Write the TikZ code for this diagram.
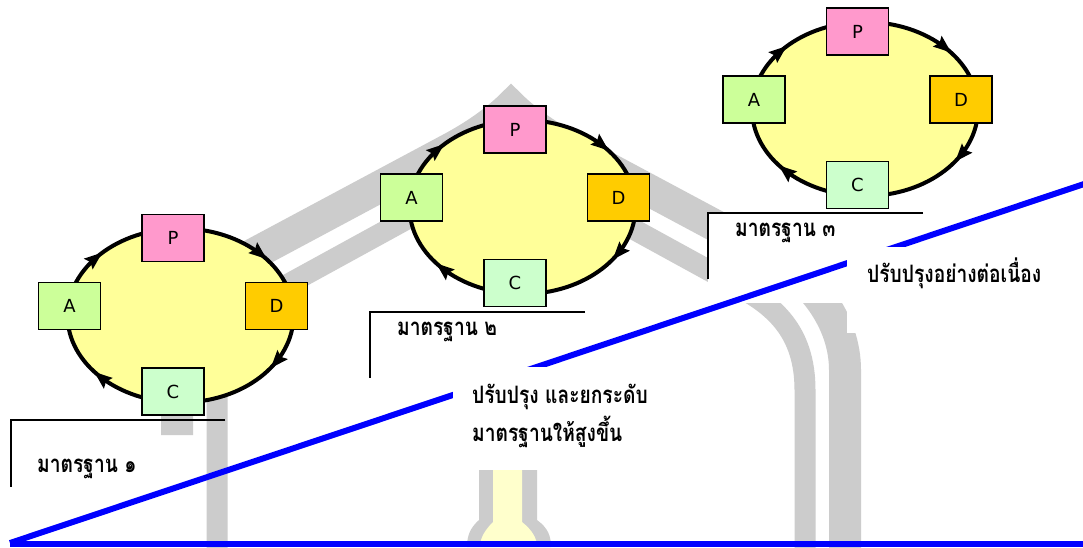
\documentclass[tikz,border=0pt]{standalone}
\usepackage{fontspec}
\setmainfont{DejaVu Sans}
\newfontfamily\thaifont[Script=Thai,FakeStretch=0.8]{Loma}
\usetikzlibrary{decorations.markings}
\definecolor{ringfill}{HTML}{FFFF99}
\definecolor{pfill}{HTML}{FF99CC}
\definecolor{afill}{HTML}{CCFF99}
\definecolor{dfill}{HTML}{FFCC00}
\definecolor{cfill}{HTML}{CCFFCC}
\definecolor{wmgrey}{HTML}{CCCCCC}
\definecolor{wmyellow}{HTML}{FFFFCC}
\definecolor{lineblue}{HTML}{0000FF}
\newcommand\ringtip{\fill[black] (5pt,0pt) -- (-13pt,7pt) -- (-10pt,0pt) -- (-13pt,-7pt) -- cycle;}
\tikzset{
  stagebox/.style={draw=black, line width=1.6pt, minimum width=62pt, minimum height=47pt,
    inner sep=0pt, font=\fontsize{18}{18}\selectfont},
  ring/.style={draw=black, line width=4pt, fill=ringfill, postaction={decorate},
    decoration={markings,
      mark=at position 0.085 with {\ringtip},
      mark=at position 0.39 with {\ringtip},
      mark=at position 0.61 with {\ringtip},
      mark=at position 0.89 with {\ringtip}}},
  labelline/.style={black, line width=1.5pt},
  blueline/.style={lineblue, line width=6pt},
  band/.style={wmgrey, line join=miter},
  mask/.style={white},
  thaitext/.style={font=\thaifont\bfseries\fontsize{24}{24}\selectfont, anchor=base west, inner sep=0pt},
}
\newcommand\pdcacycle[2]{%
  \begin{scope}[shift={#2}]
    \coordinate (E#1) at (180.5,315.5);
    \path[ring] (E#1) ellipse [x radius=113, y radius=87];
    \node[stagebox, fill=pfill] (P#1) at (173,238) {P};
    \node[stagebox, fill=afill] (A#1) at (69.5,306) {A};
    \node[stagebox, fill=dfill] (D#1) at (276.5,306) {D};
    \node[stagebox, fill=cfill] (C#1) at (173,391.5) {C};
  \end{scope}}
\begin{document}
\begin{tikzpicture}[x=1pt,y=-1pt]
\useasboundingbox (0,0) rectangle (1083,547);
\fill[white] (0,0) rectangle (1083,547);
% watermark
\draw[band, line width=32pt] (177,435) -- (177,370) .. controls (177,320) and (212,278) .. (250,256)
  -- (450,149) .. controls (480,133) and (500,117) .. (511,106)
  .. controls (522,117) and (542,133) .. (572,149) -- (772,256)
  .. controls (810,278) and (845,320) .. (845,370) -- (845,560);
\draw[band, line width=21pt] (217,560) -- (217,390) .. controls (217,330) and (250,305) .. (283,287)
  -- (511,162) -- (739,287) .. controls (772,305) and (805,330) .. (805,390) -- (805,560);
\fill[wmgrey] (479,470) -- (537,470) -- (537,520) .. controls (548,528) and (551,536) .. (551,547)
  -- (467,547) .. controls (467,536) and (470,528) .. (479,520) -- cycle;
\fill[wmyellow] (493,470) -- (522,470) -- (522,522) .. controls (532,530) and (537,538) .. (537,547)
  -- (480,547) .. controls (480,538) and (485,530) .. (493,522) -- cycle;
\fill[mask] (708,213) rectangle (923,303);
% blue lines
\coordinate (B0) at (10,543);
\coordinate (B1) at (1090,182);
\coordinate (B2) at (1090,544);
\coordinate (B3) at (10,544);
\draw[blueline] (B0) -- (B1);
\draw[blueline] (B3) -- (B2);
% text masks
\fill[mask] (453,367) rectangle (660,470);
\fill[mask] (847,247) rectangle (1083,333);
% standard labels
\coordinate (L1a) at (225,420); \coordinate (L1) at (11,420); \coordinate (L1b) at (11,487);
\coordinate (L2a) at (585,312); \coordinate (L2) at (370,312); \coordinate (L2b) at (370,378);
\coordinate (L3a) at (923,213); \coordinate (L3) at (708,213); \coordinate (L3b) at (708,279);
\draw[labelline] (L1a) -- (L1) -- (L1b);
\draw[labelline] (L2a) -- (L2) -- (L2b);
\draw[labelline] (L3a) -- (L3) -- (L3b);
\node[thaitext] (S1) at (37,472) {มาตรฐาน ๑};
\node[thaitext] (S2) at (397,335) {มาตรฐาน ๒};
\node[thaitext] (S3) at (735,236) {มาตรฐาน ๓};
\node[thaitext] (T2a) at (472,403) {ปรับปรุง และยกระดับ};
\node[thaitext] (T2b) at (472,441) {มาตรฐานให้สูงขึ้น};
\node[thaitext] (T3) at (867,282) {ปรับปรุงอย่างต่อเนื่อง};
% cycles
\pdcacycle{1}{(0,0)}
\pdcacycle{2}{(342,-108.5)}
\pdcacycle{3}{(684.5,-206.5)}
\end{tikzpicture}
\end{document}
